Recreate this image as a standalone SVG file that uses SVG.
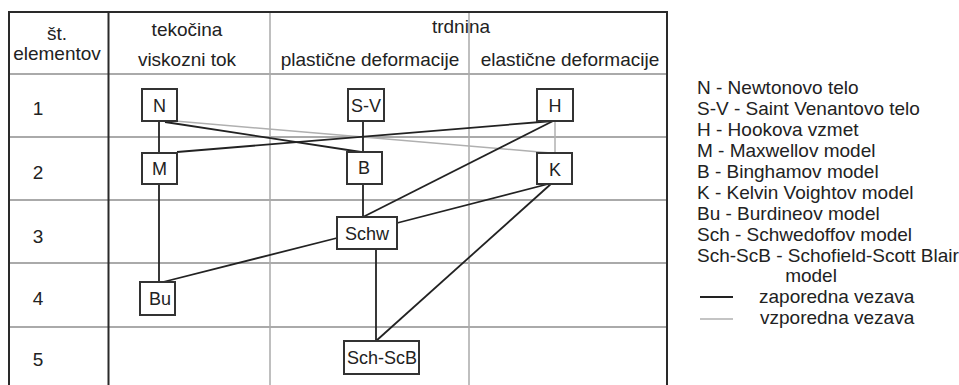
<svg xmlns="http://www.w3.org/2000/svg" width="959" height="385" viewBox="0 0 959 385">
<style>
text{font-family:"Liberation Sans",Arial,sans-serif;font-size:19px;fill:#222}
.c{text-anchor:middle}
.nl{font-size:18px;text-anchor:middle}
.box{fill:#fff;stroke:#333;stroke-width:2}
.dk{stroke:#2a2a2a;stroke-width:2;fill:none}
.gr{stroke:#aaa;stroke-width:2;fill:none}
.gc{stroke:#aaa;stroke-width:1.5;fill:none}
.ser{stroke:#222;stroke-width:1.8;fill:none}
.par{stroke:#b0b0b0;stroke-width:1.5;fill:none}
</style>
<rect width="959" height="385" fill="#fff"/>
<g id="table">
<line class="gr" x1="9" y1="74" x2="667" y2="74"/>
<line class="gr" x1="9" y1="137" x2="667" y2="137"/>
<line class="gr" x1="9" y1="200" x2="667" y2="200"/>
<line class="gr" x1="9" y1="263" x2="667" y2="263"/>
<line class="gr" x1="9" y1="327" x2="667" y2="327"/>
<line class="gc" x1="270" y1="12" x2="270" y2="385"/>
<line class="gc" x1="469" y1="12" x2="469" y2="385"/>
<line class="dk" x1="8" y1="12" x2="668" y2="12"/>
<line class="dk" x1="9" y1="12" x2="9" y2="385"/>
<line class="dk" x1="108.5" y1="12" x2="108.5" y2="385"/>
<line class="dk" x1="667" y1="12" x2="667" y2="385"/>
<text class="c" x="57" y="40">št.</text>
<text class="c" x="57" y="60">elementov</text>
<text class="c" x="187" y="36">tekočina</text>
<text class="c" x="187" y="66">viskozni tok</text>
<text class="c" x="461" y="33">trdnina</text>
<text class="c" x="370" y="66">plastične deformacije</text>
<text class="c" x="570" y="66">elastične deformacije</text>
<text class="c" x="38" y="115">1</text>
<text class="c" x="38" y="179">2</text>
<text class="c" x="38" y="243">3</text>
<text class="c" x="38" y="305">4</text>
<text class="c" x="38" y="366">5</text>
</g>
<g id="connectors">
<line class="par" x1="175" y1="121" x2="551" y2="153"/>
<line class="par" x1="555" y1="120" x2="555" y2="153"/>
<line class="ser" x1="159" y1="122" x2="159" y2="153"/>
<line class="ser" x1="165" y1="122" x2="361" y2="152"/>
<line class="ser" x1="177" y1="152" x2="553" y2="121"/>
<line class="ser" x1="363" y1="120" x2="363" y2="152"/>
<line class="ser" x1="553" y1="121" x2="363" y2="217"/>
<line class="ser" x1="363" y1="184" x2="363" y2="217"/>
<line class="ser" x1="159" y1="184" x2="159" y2="282"/>
<line class="ser" x1="163" y1="282" x2="337" y2="238"/>
<line class="ser" x1="397" y1="223" x2="552" y2="183"/>
<line class="ser" x1="552" y1="183" x2="376" y2="341"/>
<line class="ser" x1="376" y1="249" x2="376" y2="341"/>
</g>
<g id="node-N"><rect class="box" x="142" y="89" width="35" height="32"/><text class="nl" x="159.5" y="112">N</text></g>
<g id="node-SV"><rect class="box" x="348" y="89" width="36" height="32"/><text class="nl" x="366" y="112">S-V</text></g>
<g id="node-H"><rect class="box" x="537" y="89" width="36" height="32"/><text class="nl" x="555" y="112">H</text></g>
<g id="node-M"><rect class="box" x="142" y="153" width="35" height="31"/><text class="nl" x="159.5" y="175">M</text></g>
<g id="node-B"><rect class="box" x="347" y="152" width="35" height="32"/><text class="nl" x="364" y="174">B</text></g>
<g id="node-K"><rect class="box" x="537" y="153" width="35" height="31"/><text class="nl" x="555" y="176">K</text></g>
<g id="node-Schw"><rect class="box" x="337" y="217" width="60" height="32"/><text class="nl" x="367" y="240">Schw</text></g>
<g id="node-Bu"><rect class="box" x="140" y="282" width="35" height="33"/><text class="nl" x="160" y="305">Bu</text></g>
<g id="node-SchScB"><rect class="box" x="344" y="341" width="75" height="33"/><text class="nl" x="382" y="364">Sch-ScB</text></g>
<g id="legend">
<text x="697" y="94">N - Newtonovo telo</text>
<text x="697" y="115">S-V - Saint Venantovo telo</text>
<text x="697" y="136">H - Hookova vzmet</text>
<text x="697" y="157">M - Maxwellov model</text>
<text x="697" y="178">B - Binghamov model</text>
<text x="697" y="199">K - Kelvin Voightov model</text>
<text x="697" y="220">Bu - Burdineov model</text>
<text x="697" y="241">Sch - Schwedoffov model</text>
<text x="697" y="262">Sch-ScB - Schofield-Scott Blair</text>
<text class="c" x="811" y="282">model</text>
<line class="ser" x1="700" y1="297" x2="733" y2="297"/>
<text x="759" y="303">zaporedna vezava</text>
<line class="par" x1="700" y1="319" x2="733" y2="319"/>
<text x="760" y="324">vzporedna vezava</text>
</g>
</svg>
